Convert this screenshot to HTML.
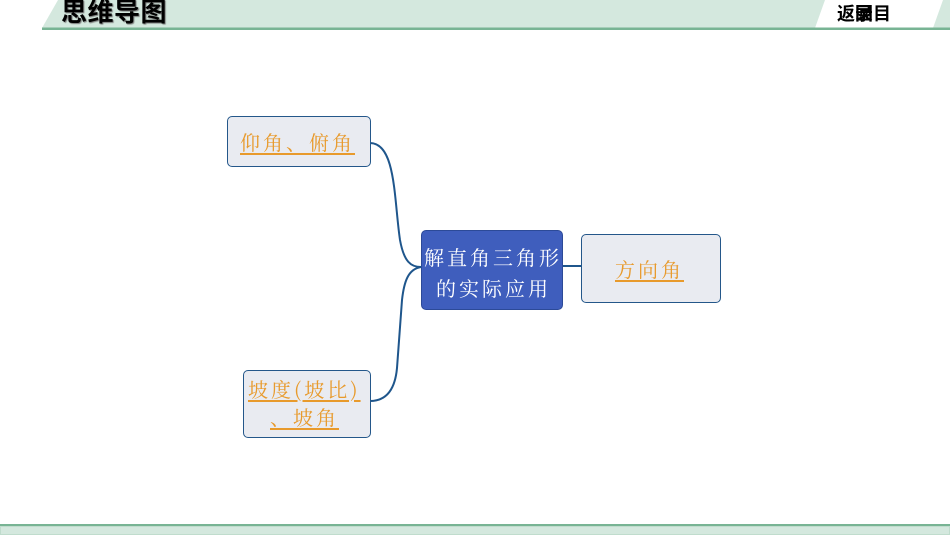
<!DOCTYPE html>
<html><head><meta charset="utf-8">
<style>
html,body{margin:0;padding:0;}
body{width:950px;height:535px;position:relative;overflow:hidden;background:#fff;font-family:"Liberation Sans","Noto Serif CJK SC",serif;}
.abs{position:absolute;}
.box{position:absolute;box-sizing:border-box;border:1.6px solid #24578a;border-radius:5px;background:#e9ebf1;}
.t{position:absolute;font-family:"Noto Serif CJK SC","Noto Sans CJK SC",serif;font-size:20px;color:#e89a2c;letter-spacing:3px;white-space:nowrap;line-height:24px;text-decoration:underline;text-decoration-thickness:1.5px;text-underline-offset:3px;}
.hd{font-family:"Liberation Sans","Noto Sans CJK SC",sans-serif;font-weight:bold;color:#000;white-space:nowrap;}
</style></head><body>
<svg class="abs" style="left:0;top:0" width="950" height="535">
  <polygon points="42,28 58,0 825,0 815,28" fill="#d4e8de"/>
  <polygon points="933,28 943,0 950,0 950,28" fill="#d4e8de"/>
  <rect x="42" y="27.5" width="908" height="2.5" fill="#78b494"/>
  <rect x="0" y="524" width="950" height="2.5" fill="#78b494"/>
  <rect x="0.5" y="526.5" width="949" height="8" fill="#d4e8de" stroke="#c0dccd" stroke-width="1"/>
  <g fill="none" stroke="#1f568c" stroke-width="2">
    <path d="M370,143 C396,143 394,200 400,240 C404,262 411,267 421,267"/>
    <path d="M421,267 C408,269 404,282 402,300 L397,368 C395,390 386,401 370,401"/>
    <path d="M562,266 L581,266"/>
  </g>
</svg>
<div class="abs hd" style="left:61px;top:-3px;font-size:26px;line-height:30px;text-shadow:1px 1px 1px #777;letter-spacing:0.5px;">思维导图</div>
<div class="abs hd" style="left:837px;top:4px;font-size:18px;line-height:20px;">返<span style="position:relative;display:inline-block;width:18px;">回<span style="position:absolute;left:0;top:0;">录</span></span>目</div>

<div class="box" style="left:227px;top:116px;width:144px;height:51px;"></div>
<div class="t" style="left:240px;top:130px;">仰角、俯角</div>

<div class="box" style="left:421px;top:230px;width:142px;height:80px;background:#3f5ebd;border-color:#2c4a98;"></div>
<div class="abs" style="left:421px;top:241px;width:142px;text-align:center;font-family:'Noto Serif CJK SC','Noto Sans CJK SC',serif;font-size:20px;color:#fff;line-height:31px;letter-spacing:3px;white-space:nowrap;"><div style="margin-left:2px">解直角三角形</div><div style="margin-left:3px">的实际应用</div></div>

<div class="box" style="left:581px;top:234px;width:140px;height:69px;"></div>
<div class="t" style="left:615px;top:257px;">方向角</div>

<div class="box" style="left:243px;top:370px;width:128px;height:68px;"></div>
<div class="t" style="left:248px;top:377px;letter-spacing:3px;">坡度(坡比)</div>
<div class="t" style="left:270px;top:405px;">、坡角</div>
</body></html>
